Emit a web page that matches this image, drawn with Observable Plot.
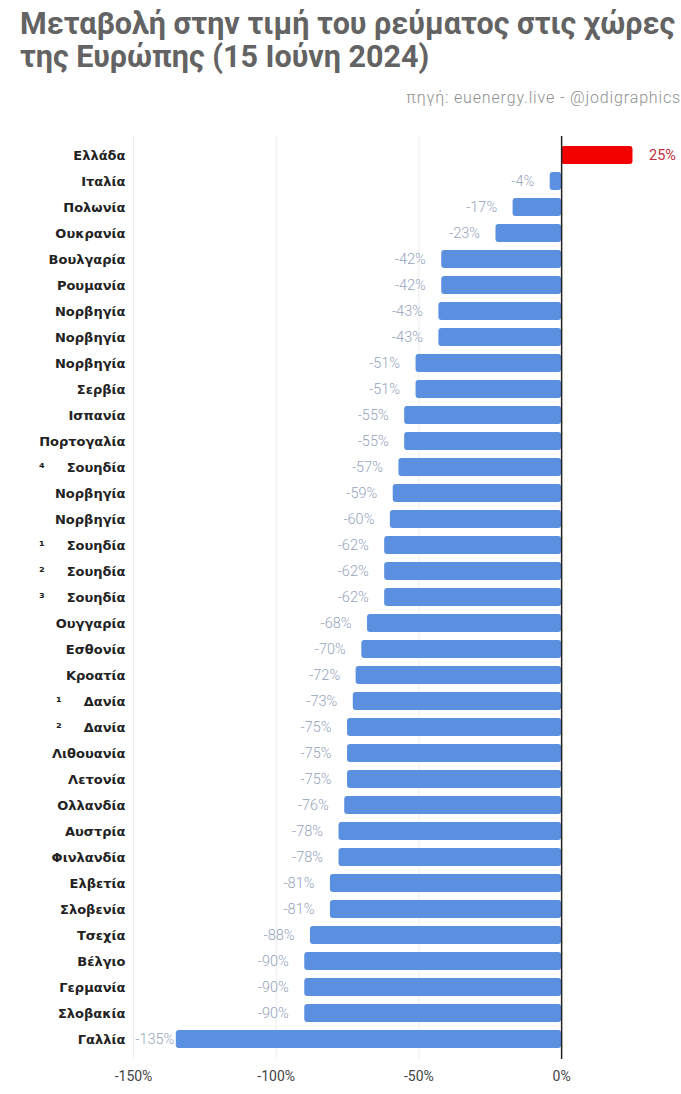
<!DOCTYPE html>
<html>
<head>
<meta charset="utf-8">
<script src="https://cdn.jsdelivr.net/npm/d3@7"></script>
<script src="https://cdn.jsdelivr.net/npm/@observablehq/plot@0.6"></script>
<style>
  html, body { margin: 0; padding: 0; background: #fff; }
  #header { position: relative; height: 116px; width: 681px; overflow: hidden; }
  #title { position: absolute; left: 20px; top: 7px; font-family: Roboto, sans-serif; font-weight: 700; font-size: 30.5px; line-height: 33px; color: #636363; white-space: nowrap; }
  #source { position: absolute; right: 0; top: 88px; font-family: Roboto, sans-serif; font-weight: 300; font-size: 16px; letter-spacing: 0.85px; color: #8f8f8f; white-space: nowrap; }
  #chart svg { display: block; }
</style>
</head>
<body>
<div id="header">
  <div id="title">Μεταβολή στην τιμή του ρεύματος στις χώρες<br>της Ευρώπης (15 Ιούνη 2024)</div>
  <div id="source">πηγή: euenergy.live - @jodigraphics</div>
</div>
<div id="chart"></div>
<script>
const countries = [
  "Ελλάδα", "Ιταλία", "Πολωνία", "Ουκρανία", "Βουλγαρία", "Ρουμανία",
  "Νορβηγία", "Νορβηγία", "Νορβηγία", "Σερβία", "Ισπανία", "Πορτογαλία",
  "Σουηδία", "Νορβηγία", "Νορβηγία", "Σουηδία", "Σουηδία", "Σουηδία",
  "Ουγγαρία", "Εσθονία", "Κροατία", "Δανία", "Δανία", "Λιθουανία",
  "Λετονία", "Ολλανδία", "Αυστρία", "Φινλανδία", "Ελβετία", "Σλοβενία",
  "Τσεχία", "Βέλγιο", "Γερμανία", "Σλοβακία", "Γαλλία"
];
const zones = [
  "", "", "", "", "", "",
  "", "", "", "", "", "",
  "⁴", "", "", "¹", "²", "³",
  "", "", "", "¹", "²", "",
  "", "", "", "", "", "",
  "", "", "", "", ""
];
const changes = [
  25, -4, -17, -23, -42, -42,
  -43, -43, -51, -51, -55, -55,
  -57, -59, -60, -62, -62, -62,
  -68, -70, -72, -73, -75, -75,
  -75, -76, -78, -78, -81, -81,
  -88, -90, -90, -90, -135
];
const xTicks = [-150, -100, -50, 0];
const gridTicks = [-150, -100, -50];

const data = countries.map((c, i) => ({i, country: c, zone: zones[i], value: changes[i]}));
const labelOf = i => (zones[i] ? zones[i] + "\u2003\u00a0\u00a0" : "") + countries[i];
const fmt = d => d.value + "%";
const negLabel = {x: "value", y: "i", text: fmt, textAnchor: "end", fill: "#95a3bd", fontSize: 14.5, fontWeight: 300};

const chart = Plot.plot({
  width: 681,
  height: 978,
  marginTop: 20,
  marginBottom: 35,
  marginLeft: 133,
  marginRight: 0,
  style: {fontFamily: "Roboto, sans-serif", background: "#fff"},
  x: {domain: [-150, 42], label: null},
  y: {domain: d3.range(countries.length), padding: 0.3, label: null},
  marks: [
    Plot.ruleX(gridTicks, {stroke: "#ececec", strokeWidth: 1}),
    Plot.barX(data, {x: "value", y: "i", fill: d => d.value > 0 ? "#f20000" : "#5b8fe0", rx: 3}),
    Plot.ruleX([0], {stroke: "#222", strokeWidth: 1.5}),
    Plot.text(data.filter(d => d.value < 0 && d.value > -120), {...negLabel, dx: -16}),
    Plot.text(data.filter(d => d.value <= -120), {...negLabel, dx: -2}),
    Plot.text(data.filter(d => d.value > 0), {x: "value", y: "i", text: fmt, textAnchor: "start", dx: 16, fill: "#c0303a", fontSize: 14.5}),
    Plot.axisX({ticks: xTicks, tickFormat: d => d + "%", tickSize: 0, tickPadding: 12, fontSize: 14, fill: "#444", label: null}),
    Plot.axisY({tickFormat: labelOf, tickSize: 0, tickPadding: 8, fontSize: 13, fontWeight: "bold", fontFamily: "DejaVu Sans, sans-serif", fill: "#222", label: null})
  ]
});
document.getElementById("chart").appendChild(chart);
</script>
</body>
</html>
